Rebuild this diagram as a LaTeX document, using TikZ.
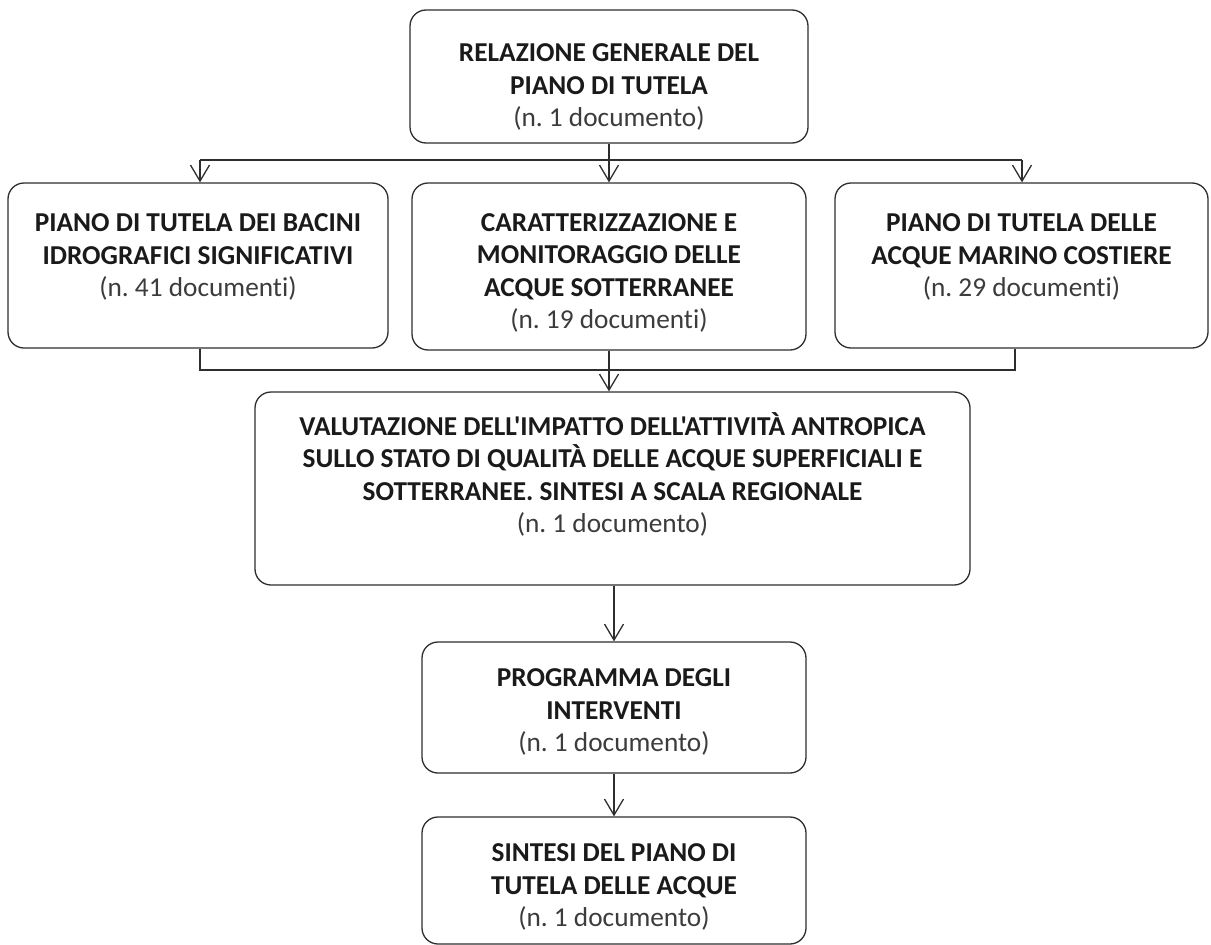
\documentclass[tikz,border=0pt]{standalone}
\usepackage{fontspec}
\setmainfont{Carlito}[Ligatures={NoCommon,TeXOff}]
\usetikzlibrary{arrows.meta}
\definecolor{linec}{HTML}{2E2E2E}
\definecolor{txtc}{HTML}{1A1A1A}
\definecolor{subc}{HTML}{3C3C3C}
\frenchspacing
\begin{document}
\begin{tikzpicture}[x=1pt,y=-1pt,
  box/.style={draw=linec, line width=1.3pt, rounded corners=16pt, inner sep=0pt, fill=white},
  ttl/.style={font=\fontsize{27.3}{32.5}\selectfont, text=txtc, align=center, inner sep=0pt},
  conn/.style={draw=linec, line width=1.3pt},
  arr/.style={conn, -{Straight Barb[length=16pt,width=19pt,line width=1.3pt]}}]
\useasboundingbox (0,0) rectangle (1211,945);
% boxes
\node[box, minimum width=398pt, minimum height=133pt] (top) at (609,76.5) {};
\node[box, minimum width=380pt, minimum height=165pt] (b1) at (198,265.5) {};
\node[box, minimum width=394pt, minimum height=167pt] (b2) at (609,266.5) {};
\node[box, minimum width=373pt, minimum height=165pt] (b3) at (1021.5,265.5) {};
\node[box, minimum width=715pt, minimum height=193pt] (val) at (612.5,488.5) {};
\node[box, minimum width=384pt, minimum height=131pt] (prog) at (614,707.5) {};
\node[box, minimum width=384pt, minimum height=127pt] (sint) at (614,880.5) {};
% texts
\node[ttl] (ttop) at (609,87) {\textbf{RELAZIONE GENERALE DEL}\\\textbf{PIANO DI TUTELA}\\\textcolor{subc}{(n. 1 documento)}};
\node[ttl] (tb1) at (198,257) {\textbf{PIANO DI TUTELA DEI BACINI}\\\textbf{IDROGRAFICI SIGNIFICATIVI}\\\textcolor{subc}{(n. 41 documenti)}};
\node[ttl] (tb2) at (609,273) {\textbf{CARATTERIZZAZIONE E}\\\textbf{MONITORAGGIO DELLE}\\\textbf{ACQUE SOTTERRANEE}\\\textcolor{subc}{(n. 19 documenti)}};
\node[ttl] (tb3) at (1021.5,257) {\textbf{PIANO DI TUTELA DELLE}\\\textbf{ACQUE MARINO COSTIERE}\\\textcolor{subc}{(n. 29 documenti)}};
\node[ttl] (tval) at (612.5,474.5) {\textbf{VALUTAZIONE DELL'IMPATTO DELL'ATTIVITÀ ANTROPICA}\\\textbf{SULLO STATO DI QUALITÀ DELLE ACQUE SUPERFICIALI E}\\\textbf{SOTTERRANEE. SINTESI A SCALA REGIONALE}\\\textcolor{subc}{(n. 1 documento)}};
\node[ttl] (tprog) at (614,712) {\textbf{PROGRAMMA DEGLI}\\\textbf{INTERVENTI}\\\textcolor{subc}{(n. 1 documento)}};
\node[ttl] (tsint) at (614,887) {\textbf{SINTESI DEL PIANO DI}\\\textbf{TUTELA DELLE ACQUE}\\\textcolor{subc}{(n. 1 documento)}};
% connectors top -> row 2
\coordinate (jl) at (200,160);
\coordinate (jr) at (1022,160);
\draw[conn] (jl) -- (jr);
\draw[arr] (top.south) -- (b2.north);
\draw[arr] (jl) -- (jl |- b1.north);
\draw[arr] (jr) -- (jr |- b3.north);
% connectors row 2 -> val
\coordinate (kl) at (200,370);
\coordinate (kr) at (1015,370);
\draw[conn] (kl |- b1.south) -- (kl) -- (kr) -- (kr |- b3.south);
\draw[arr] (b2.south) -- (b2.south |- val.north);
% val -> prog -> sint
\draw[arr] (val.south -| prog.north) -- (prog.north);
\draw[arr] (prog.south) -- (sint.north);
\end{tikzpicture}
\end{document}
